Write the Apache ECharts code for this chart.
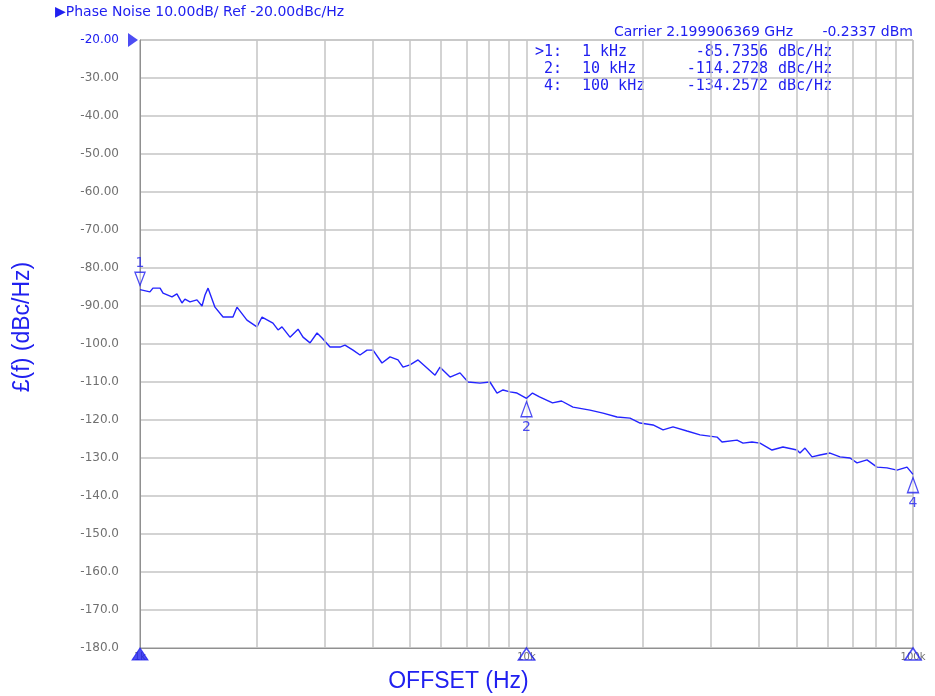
<!DOCTYPE html>
<html>
<head>
<meta charset="utf-8">
<script src="https://cdn.jsdelivr.net/npm/echarts@6/dist/echarts.min.js"></script>
<style>
  html, body { margin: 0; padding: 0; background: #fff; }
  #chart { width: 935px; height: 696px; }
</style>
</head>
<body>
<div id="chart"></div>
<script>
// 偏移频率 (Hz) 与相位噪声 (dBc/Hz)
const offsetHz = [1000, 1061, 1080, 1127, 1147, 1210, 1246, 1284, 1307, 1347, 1404, 1447, 1473, 1500, 1563,
  1640, 1740, 1782, 1891, 2007, 2069, 2208, 2276, 2330, 2444, 2564, 2641, 2754, 2871, 2958, 3102, 3292,
  3391, 3558, 3709, 3867, 4008, 4227, 4435, 4651, 4792, 4995, 5241, 5529, 5799, 5974, 6341, 6729, 7058,
  7580, 8043, 8389, 8694, 9064, 9450, 10000, 10363, 10805, 11676, 12320, 13193, 14597, 15774, 17148,
  18530, 19668, 21254, 22558, 23938, 26018, 28115, 31114, 32052, 35046, 36328, 38320, 40190, 43170,
  46085, 50107, 51005, 52550, 54790, 57460, 61000, 64730, 68710, 71640, 76030, 80700, 85640, 90900,
  96500, 100000];
const noiseDbc = [-85.7, -86.3, -85.3, -85.3, -86.6, -87.6, -86.8, -89.2, -88.2, -88.9, -88.4, -90.0, -87.1,
  -85.3, -90.3, -92.9, -92.9, -90.3, -93.7, -95.5, -92.9, -94.5, -96.3, -95.5, -98.2, -96.1, -98.2, -99.7,
  -97.1, -98.4, -100.8, -100.8, -100.3, -101.6, -102.9, -101.6, -101.6, -105.0, -103.4, -104.2, -106.1,
  -105.5, -104.2, -106.3, -108.2, -106.1, -108.7, -107.6, -110.0, -110.3, -110.0, -112.9, -112.1, -112.6,
  -112.9, -114.3, -112.9, -113.9, -115.5, -115.0, -116.6, -117.4, -118.2, -119.2, -119.5, -120.8, -121.3,
  -122.6, -121.8, -122.9, -123.9, -124.5, -125.8, -125.3, -126.1, -125.8, -126.1, -127.9, -127.1, -127.9,
  -128.7, -127.4, -129.7, -129.2, -128.7, -129.7, -130.0, -131.3, -130.5, -132.4, -132.6, -133.2, -132.4,
  -134.3];

// 标记点
const markerNames = ['1', '2', '4'];
const markerHz = [1000, 10000, 100000];
const markerDbc = [-85.7356, -114.2728, -134.2572];
const markerText = ['1 kHz', '10 kHz', '100 kHz'];
const markerPrefix = ['>1:', '2:', '4:'];

// 坐标轴
const yMin = -180, yMax = -20, yStep = 10;
const minorGridHz = [2000, 3000, 4000, 5000, 6000, 7000, 8000, 9000,
  20000, 30000, 40000, 50000, 60000, 70000, 80000, 90000];

const BLUE = '#2020f0';
const LINE = '#2424ff';
const GREY = '#707070';
const MONO = '15px "DejaVu Sans Mono"';

const chart = echarts.init(document.getElementById('chart'));

const traceData = offsetHz.map((f, i) => [f, noiseDbc[i]]);

// 标记表格
const tableTexts = [];
markerPrefix.forEach((p, i) => {
  const y = 52 + i * 17;
  const base = { textVerticalAlign: 'middle', fill: BLUE, font: MONO };
  tableTexts.push(
    { type: 'text', x: 562, y: y, style: Object.assign({ text: p, textAlign: 'right' }, base) },
    { type: 'text', x: 582, y: y, style: Object.assign({ text: markerText[i], textAlign: 'left' }, base) },
    { type: 'text', x: 768, y: y, style: Object.assign({ text: markerDbc[i].toFixed(4), textAlign: 'right' }, base) },
    { type: 'text', x: 778, y: y, style: Object.assign({ text: 'dBc/Hz', textAlign: 'left' }, base) }
  );
});

chart.setOption({
  animation: false,
  backgroundColor: '#ffffff',
  grid: {
    left: 140, right: 22, top: 40, bottom: 48,
    outerBoundsMode: 'none',
    show: true, borderColor: '#b0b0b0', borderWidth: 1
  },
  xAxis: {
    type: 'log',
    logBase: 10,
    min: 1000,
    max: 100000,
    name: 'OFFSET (Hz)',
    nameLocation: 'middle',
    nameGap: 22,
    nameTextStyle: { color: BLUE, fontFamily: 'Liberation Sans', fontSize: 23, padding: [0, 136, 0, 0] },
    axisLine: { lineStyle: { color: '#909090', width: 1 } },
    axisTick: { show: false },
    axisLabel: {
      color: GREY, fontSize: 10, fontFamily: 'DejaVu Sans', margin: 4,
      formatter: v => (v / 1000) + 'k'
    },
    splitLine: { show: true, lineStyle: { color: '#c4c4c4', width: 1.5 } }
  },
  yAxis: {
    type: 'value',
    min: yMin,
    max: yMax,
    interval: yStep,
    name: '£(f) (dBc/Hz)',
    nameLocation: 'middle',
    nameGap: 106,
    nameTextStyle: { color: BLUE, fontFamily: 'Liberation Sans', fontSize: 23, padding: [0, 0, 0, 34] },
    axisLine: { show: true, lineStyle: { color: '#909090', width: 1 } },
    axisTick: { show: false },
    axisLabel: {
      color: GREY, fontSize: 12, fontFamily: 'DejaVu Sans', margin: 21,
      formatter: v => {
        const s = v > -100 ? v.toFixed(2) : v.toFixed(1);
        return v === yMax ? '{b|' + s + '}' : s;
      },
      rich: { b: { color: BLUE, fontSize: 12, fontFamily: 'DejaVu Sans' } }
    },
    splitLine: { show: true, lineStyle: { color: '#c4c4c4', width: 1.5 } }
  },
  graphic: [
    { type: 'text', x: 55, y: 12, style: { text: '\u25B6Phase Noise 10.00dB/ Ref -20.00dBc/Hz', fill: BLUE, font: '14px "DejaVu Sans"', textVerticalAlign: 'middle' } },
    { type: 'text', x: 614, y: 32, style: { text: 'Carrier 2.199906369 GHz', fill: BLUE, font: '14px "DejaVu Sans"', textVerticalAlign: 'middle' } },
    { type: 'text', x: 913, y: 32, style: { text: '-0.2337 dBm', fill: BLUE, font: '14px "DejaVu Sans"', textAlign: 'right', textVerticalAlign: 'middle' } },
    ...tableTexts
  ],
  series: [
    {
      name: 'trace',
      type: 'line',
      data: traceData,
      showSymbol: false,
      lineStyle: { color: LINE, width: 1.4 },
      markLine: {
        silent: true,
        symbol: 'none',
        label: { show: false },
        lineStyle: { color: '#c4c4c4', width: 1.5, type: 'solid' },
        data: minorGridHz.map(f => ({ xAxis: f }))
      },
      z: 3
    },
    {
      name: 'markers',
      type: 'scatter',
      clip: false,
      z: 4,
      data: markerHz.map((f, i) => {
        const first = i === 0;
        return {
          value: [f, markerDbc[i]],
          symbol: 'triangle',
          symbolSize: first ? [10, 13] : [11, 15],
          symbolRotate: first ? 180 : 0,
          symbolOffset: [0, first ? -11 : 11],
          label: {
            show: true,
            formatter: markerNames[i],
            position: first ? 'top' : 'bottom',
            distance: first ? 1 : 3,
            color: BLUE,
            fontSize: 14,
            fontFamily: 'DejaVu Sans'
          }
        };
      }),
      itemStyle: { color: 'rgba(255,255,255,0.6)', borderColor: BLUE, borderWidth: 1.4 }
    },
    {
      name: 'axisMarks',
      type: 'scatter',
      clip: false,
      z: 5,
      data: markerHz.map((f, i) => ({
        value: [f, yMin],
        symbol: 'triangle',
        symbolSize: [16, 12],
        symbolOffset: [0, 6],
        itemStyle: i === 0
          ? { color: BLUE, borderColor: BLUE, borderWidth: 1 }
          : { color: 'rgba(255,255,255,0)', borderColor: BLUE, borderWidth: 1.6 }
      }))
    },
    {
      name: 'refLevel',
      type: 'scatter',
      clip: false,
      z: 5,
      data: [{ value: [1000, yMax], symbol: 'triangle', symbolSize: [14, 10], symbolRotate: -90, symbolOffset: [-7, 0] }],
      itemStyle: { color: BLUE }
    }
  ]
});
</script>
</body>
</html>
